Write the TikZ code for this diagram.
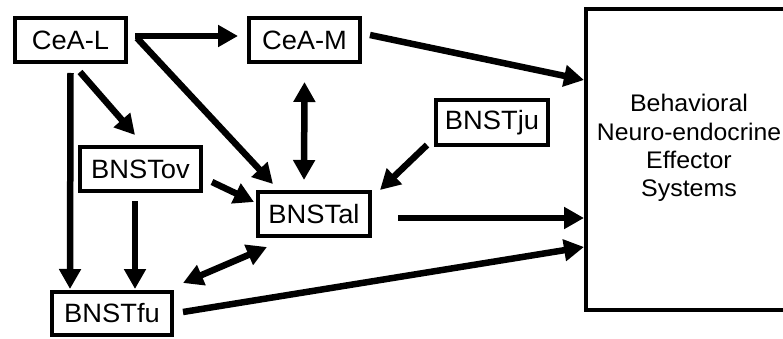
\documentclass[tikz,border=0pt]{standalone}
\usepackage{fontspec}
\setmainfont{Liberation Sans}
\usetikzlibrary{arrows.meta,calc}
\newcommand\wtxt[1]{\scalebox{1.03}[1]{#1}}
\begin{document}
\begin{tikzpicture}[x=1pt,y=-1pt,
  box/.style={draw,line width=4pt,inner sep=0pt,font=\fontsize{26.5}{30}\selectfont},
  arr/.style={line width=6.5pt,-{Triangle[length=20pt,width=21pt]}},
  darr/.style={line width=6.5pt,{Triangle[length=20pt,width=21pt]}-{Triangle[length=20pt,width=21pt]}}]
\clip (0,0) rectangle (783,339);
\fill[white] (0,0) rectangle (783,339);
\node[box,minimum width=111pt,minimum height=44pt] (CeAL) at (70.5,40) {\wtxt{CeA-L}};
\node[box,minimum width=111pt,minimum height=44pt] (CeAM) at (304.5,40) {\wtxt{CeA-M}};
\node[box,minimum width=121pt,minimum height=44pt] (BNSTov) at (140.5,169) {\wtxt{BNSTov}};
\node[box,minimum width=112pt,minimum height=44pt] (BNSTal) at (314,214) {\wtxt{BNSTal}};
\node[box,minimum width=112pt,minimum height=45pt] (BNSTju) at (492,122.5) {\wtxt{BNSTju}};
\node[box,minimum width=120pt,minimum height=43pt] (BNSTfu) at (112,313.5) {\wtxt{BNSTfu}};
\node[draw,line width=4pt,minimum width=206pt,minimum height=301pt,inner sep=0pt] (Eff) at (689,159.5) {};
\node[font=\fontsize{24}{28.3}\selectfont,align=center,anchor=north,inner sep=0pt] (EffText) at (689,94.4) {\scalebox{1.04}[1]{Behavioral}\\\scalebox{1.03}[1]{Neuro-endocrine}\\\scalebox{1.04}[1]{Effector}\\\scalebox{1.04}[1]{Systems}};
% connectors
\draw[arr] ($(CeAL.east)+(7,-4)$) -- ($(CeAM.west)+(-9,-4)$);
\draw[arr] ($(CeAL.east)+(9,-2)$) -- ($(BNSTal.north west)+(17,-6)$);
\draw[arr] ($(CeAL.south)+(9.5,8)$) -- ($(BNSTov.north)+(-5.5,-10)$);
\draw[arr] ($(CeAL.south)+(0,9)$) -- ($(BNSTfu.north west)+(20,-1)$);
\draw[arr] ($(BNSTov.south)+(-5.5,8)$) -- ($(BNSTfu.north)+(23,-1)$);
\draw[arr] ($(BNSTov.east)+(9,13)$) -- ($(BNSTal.west)+(-2,-12)$);
\draw[darr] ($(CeAM.south)+(0,18)$) -- ($(BNSTal.north)+(-10,-10)$);
\draw[arr] ($(BNSTju.south west)+(-7,-2)$) -- ($(BNSTal.north east)+(8,0)$);
\draw[arr] ($(BNSTal.east)+(26,4)$) -- ($(Eff.west)+(0,58.5)$);
\draw[arr] ($(BNSTfu.east)+(9,-1.5)$) -- ($(Eff.west)+(0,87.5)$);
\draw[darr] ($(BNSTfu.north east)+(9,-7)$) -- ($(BNSTal.south)+(-47,9)$);
\draw[arr] ($(CeAM.east)+(8,-5)$) -- ($(Eff.west)+(0,-79.5)$);
\end{tikzpicture}
\end{document}
